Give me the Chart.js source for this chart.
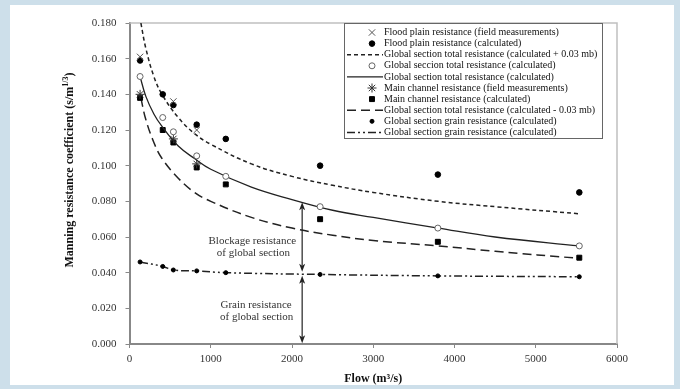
<!DOCTYPE html>
<html>
<head>
<meta charset="utf-8">
<script src="https://cdn.jsdelivr.net/npm/chart.js@4.4.1/dist/chart.umd.min.js"></script>
<style>
    html, body { margin: 0; padding: 0; background: #cddfea; }
    #wrap { width: 680px; height: 389px; }
</style>
</head>
<body>
<div id="wrap"><canvas id="chart" width="680" height="389"></canvas></div>
<script>
// measured / calculated points (flow in m3/s)
const flows = [130, 409, 540, 827, 1185, 2346, 3795, 5536];
const floodCalc = [0.159, 0.140, 0.134, 0.123, 0.115, 0.100, 0.095, 0.085];
const globalCalc = [0.150, 0.127, 0.119, 0.1055, 0.094, 0.077, 0.065, 0.055];
const mainCalc = [0.138, 0.120, 0.113, 0.099, 0.0895, 0.070, 0.0573, 0.0484];
const grainCalc = [0.046, 0.0435, 0.0415, 0.041, 0.040, 0.039, 0.0382, 0.0377];

const fieldFlows = [130, 540, 827];
const floodField = [0.161, 0.136, 0.120];
const mainField = [0.140, 0.115, 0.101];

// fitted curves
const curveFlows = [140, 200, 300, 400, 600, 800, 1000, 1500, 2000, 2500, 3000, 3800, 4500, 5536];
const upperCurve = [0.180, 0.166, 0.150, 0.140, 0.127, 0.118, 0.112, 0.101, 0.094, 0.089, 0.085, 0.080, 0.077, 0.073];
const lowerCurve = [0.138, 0.126, 0.113, 0.104, 0.093, 0.085, 0.080, 0.071, 0.065, 0.061, 0.058, 0.055, 0.052, 0.048];
const totalFlows = [130, 200, 300, 400, 600, 800, 1000, 1500, 2000, 2500, 3000, 3800, 4500, 5536];
const totalCurve = [0.150, 0.139, 0.129, 0.122, 0.111, 0.104, 0.098, 0.088, 0.081, 0.075, 0.071, 0.065, 0.060, 0.055];

const labels = [
    `Flood plain resistance (field measurements)`,
    `Flood plain resistance (calculated)`,
    `Global section total resistance (calculated + 0.03 mb)`,
    `Global seccion total resistance (calculated)`,
    `Global section total resistance (calculated)`,
    `Main channel resistance (field measurements)`,
    `Main channel resistance (calculated)`,
    `Global section total resistance (calculated - 0.03 mb)`,
    `Global section grain resistance (calculated)`,
    `Global section grain resistance (calculated)`
];

const serif = `'Liberation Serif', 'DejaVu Serif', serif`;

function toXY(xs, ys) {
    return xs.map((x, i) => ({ x: x, y: ys[i] }));
}

function markers(label, data, style, radius, fill, stroke) {
    return {
        label, data, showLine: false,
        pointStyle: style, pointRadius: radius, pointHoverRadius: radius,
        pointBackgroundColor: fill, pointBorderColor: stroke, pointBorderWidth: 1
    };
}

function curve(label, data, dash, width) {
    return {
        label, data, showLine: true, pointRadius: 0,
        borderColor: '#222', borderWidth: width, borderDash: dash,
        tension: 0.4, fill: false
    };
}

const datasets = [
    markers(labels[0], toXY(fieldFlows, floodField), 'crossRot', 4.5, '#555', '#555'),
    markers(labels[1], toXY(flows, floodCalc), 'circle', 2.8, '#000', '#000'),
    curve(labels[2], toXY(curveFlows, upperCurve), [4, 3], 1.5),
    markers(labels[3], toXY(flows, globalCalc), 'circle', 3, '#fff', '#666'),
    curve(labels[4], toXY(totalFlows, totalCurve), [], 1.3),
    markers(labels[5], toXY(fieldFlows, mainField), 'star', 4.5, '#333', '#333'),
    markers(labels[6], toXY(flows, mainCalc), 'rect', 3.5, '#000', '#000'),
    curve(labels[7], toXY(curveFlows, lowerCurve), [9, 5], 1.5),
    markers(labels[8], toXY(flows, grainCalc), 'circle', 2, '#000', '#000'),
    curve(labels[9], toXY(flows, grainCalc), [8, 3, 2, 3, 2, 3], 1.5)
];

function drawArrow(ctx, x, yFrom, yTo) {
    ctx.beginPath();
    ctx.moveTo(x, yFrom + 6);
    ctx.lineTo(x, yTo - 6);
    ctx.stroke();
    [[yFrom, 1], [yTo, -1]].forEach(([y, dir]) => {
        ctx.beginPath();
        ctx.moveTo(x, y);
        ctx.lineTo(x - 3, y + dir * 8);
        ctx.lineTo(x, y + dir * 6);
        ctx.lineTo(x + 3, y + dir * 8);
        ctx.closePath();
        ctx.fill();
    });
}

const decor = {
    id: 'decor',
    beforeDraw(chart) {
        const ctx = chart.ctx;
        ctx.save();
        ctx.fillStyle = '#ffffff';
        ctx.fillRect(10, 5, 664, 380);
        ctx.restore();
    },
    beforeDatasetsDraw(chart) {
        const { ctx, chartArea: a } = chart;
        ctx.save();
        ctx.strokeStyle = '#c0c0c0';
        ctx.lineWidth = 1.5;
        ctx.beginPath();
        ctx.moveTo(a.left, a.top);
        ctx.lineTo(a.right, a.top);
        ctx.lineTo(a.right, a.bottom);
        ctx.stroke();
        ctx.restore();
    },
    afterDatasetsDraw(chart) {
        const { ctx, scales: { x, y } } = chart;
        ctx.save();
        ctx.strokeStyle = '#222';
        ctx.fillStyle = '#222';
        ctx.lineWidth = 1.2;
        const ax = x.getPixelForValue(2125);
        drawArrow(ctx, ax, y.getPixelForValue(0.0795), y.getPixelForValue(0.0405));
        drawArrow(ctx, ax, y.getPixelForValue(0.0383), y.getPixelForValue(0.0004));

        ctx.font = `11px ${serif}`;
        ctx.fillStyle = '#333';
        ctx.textAlign = 'center';
        ctx.textBaseline = 'middle';
        ctx.fillText(`Blockage resistance`, x.getPixelForValue(1512), y.getPixelForValue(0.0579));
        ctx.fillText(`of global section`, x.getPixelForValue(1525), y.getPixelForValue(0.0508));
        ctx.fillText(`Grain resistance`, x.getPixelForValue(1558), y.getPixelForValue(0.0218));
        ctx.fillText(`of global section`, x.getPixelForValue(1565), y.getPixelForValue(0.0150));
        ctx.restore();
    },
    afterDraw(chart) {
        const ctx = chart.ctx;
        ctx.save();

        // legend box
        const lx = 344, ly = 23, lw = 258, lh = 115;
        ctx.fillStyle = '#fff';
        ctx.fillRect(lx, ly, lw, lh);
        ctx.strokeStyle = '#666';
        ctx.lineWidth = 1;
        ctx.strokeRect(lx + 0.5, ly + 0.5, lw, lh);
        ctx.font = `10px ${serif}`;
        ctx.textBaseline = 'middle';
        ctx.textAlign = 'left';
        chart.data.datasets.forEach((ds, i) => {
            const rowY = ly + 9.5 + i * 11.1;
            if (ds.showLine) {
                ctx.strokeStyle = ds.borderColor;
                ctx.lineWidth = ds.borderWidth;
                ctx.setLineDash(ds.borderDash);
                ctx.beginPath();
                ctx.moveTo(lx + 3, rowY);
                ctx.lineTo(lx + 39, rowY);
                ctx.stroke();
                ctx.setLineDash([]);
            } else {
                ctx.fillStyle = ds.pointBackgroundColor;
                ctx.strokeStyle = ds.pointBorderColor;
                ctx.lineWidth = 1;
                Chart.helpers.drawPoint(ctx, {
                    pointStyle: ds.pointStyle, radius: ds.pointRadius, borderWidth: 1, rotation: 0
                }, lx + 28, rowY);
            }
            ctx.fillStyle = '#111';
            ctx.fillText(ds.label, lx + 40, rowY);
        });

        // y axis title with superscript
        ctx.translate(70, 170);
        ctx.rotate(-Math.PI / 2);
        const main = `Manning resistance coefficient (s/m`;
        const sup = `1/3`;
        const end = `)`;
        ctx.fillStyle = '#111';
        ctx.font = `bold 12px ${serif}`;
        const w1 = ctx.measureText(main).width;
        const w3 = ctx.measureText(end).width;
        ctx.font = `bold 8px ${serif}`;
        const w2 = ctx.measureText(sup).width;
        let sx = -(w1 + w2 + w3) / 2;
        ctx.font = `bold 12px ${serif}`;
        ctx.fillText(main, sx, 0);
        ctx.font = `bold 8px ${serif}`;
        ctx.fillText(sup, sx + w1, -4);
        ctx.font = `bold 12px ${serif}`;
        ctx.fillText(end, sx + w1 + w2, 0);
        ctx.restore();
    }
};

const ctx = document.querySelector(`#chart`).getContext(`2d`);
const myChart = new Chart(ctx, {
    type: 'scatter',
    data: { datasets },
    options: {
        responsive: false,
        animation: false,
        devicePixelRatio: 1,
        layout: { padding: { left: 84, right: 63, top: 23, bottom: 20 } },
        plugins: {
            legend: { display: false },
            tooltip: { enabled: false }
        },
        scales: {
            x: {
                type: 'linear', min: 0, max: 6000,
                afterFit: scale => { scale.height = 25; },
                ticks: {
                    stepSize: 1000, color: '#333', padding: 5,
                    font: { family: serif, size: 11 },
                    callback: v => String(v)
                },
                grid: { drawOnChartArea: false, tickLength: 4, color: '#888', lineWidth: 1 },
                border: { color: '#888', width: 2 },
                title: { display: false }
            },
            y: {
                type: 'linear', min: 0, max: 0.18,
                afterFit: scale => { scale.width = 45.5; },
                ticks: {
                    stepSize: 0.02, color: '#333', padding: 9,
                    font: { family: serif, size: 11 },
                    callback: v => v.toFixed(3)
                },
                grid: { drawOnChartArea: false, tickLength: 4, color: '#888', lineWidth: 1 },
                border: { color: '#888', width: 2 }
            }
        }
    },
    plugins: [decor, {
        id: 'xTitle',
        afterDraw(chart) {
            const c = chart.ctx;
            const a = chart.chartArea;
            c.save();
            c.font = `bold 12px ${serif}`;
            c.fillStyle = '#111';
            c.textAlign = 'center';
            c.textBaseline = 'middle';
            c.fillText(`Flow (m³/s)`, (a.left + a.right) / 2, 379);
            c.restore();
        }
    }]
});
</script>
</body>
</html>
